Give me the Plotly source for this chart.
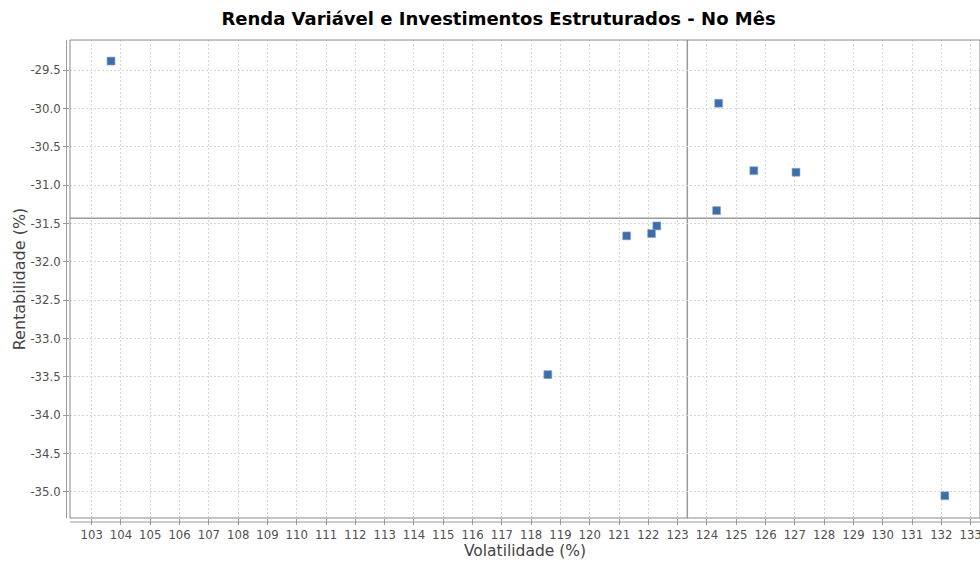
import plotly.graph_objects as go

# Data
volatilidade = [103.66, 124.40, 125.60, 127.04, 124.33, 122.29, 122.11, 121.26, 118.57, 132.12]
rentabilidade = [-29.38, -29.93, -30.81, -30.83, -31.33, -31.53, -31.63, -31.66, -33.47, -35.05]

ref_vol = 123.33
ref_rent = -31.43

x_range = [102.26, 133.32]
y_range = [-35.34, -29.105]
x_ticks = list(range(103, 134))
y_ticks = [-29.5 - 0.5 * i for i in range(12)]
y_ticklabels = [f"{v:.1f}" for v in y_ticks]

title_text = "Renda Variável e Investimentos Estruturados - No Mês"
x_title = "Volatilidade (%)"
y_title = "Rentabilidade (%)"

W, H = 980, 563
L, R, T, B = 70, 0, 40, 45
pw, ph = W - L - R, H - T - B

fig = go.Figure()
fig.add_trace(go.Scatter(
    x=volatilidade, y=rentabilidade, mode="markers",
    marker=dict(symbol="square", size=8, color="#3f6ea6",
                line=dict(color="#8fb0d6", width=0.6)),
    hoverinfo="x+y", showlegend=False, cliponaxis=False,
))

grid = dict(showgrid=True, gridcolor="#d6d6d6", griddash="2px,2px", gridwidth=1,
            zeroline=False, showline=False, ticks="outside", tickcolor="#999999",
            ticklen=6, tickwidth=1, automargin=False, ticklabeloverflow="allow",
            tickfont=dict(family="DejaVu Sans", size=11.7, color="#505050"))

fig.update_layout(
    width=W, height=H, autosize=False,
    margin=dict(l=L, r=R, t=T, b=B, pad=0, autoexpand=False),
    paper_bgcolor="white", plot_bgcolor="white",
    title=dict(text="<b>" + title_text + "</b>", x=498.5 / W, xref="container", xanchor="center",
               y=1 - 19 / H, yref="container", yanchor="middle",
               font=dict(family="DejaVu Sans", size=18, color="#000000")),
    xaxis=dict(range=x_range, tickmode="array", tickvals=x_ticks,
               title=dict(text=x_title, standoff=3,
                          font=dict(family="DejaVu Sans", size=15.5, color="#444444")),
               **grid),
    yaxis=dict(range=y_range, tickmode="array", tickvals=y_ticks, ticktext=y_ticklabels,
               title=dict(text=y_title, standoff=0,
                          font=dict(family="DejaVu Sans", size=16, color="#444444")),
               **grid),
    shapes=[
        # plot border
        dict(type="rect", xref="paper", yref="paper", x0=0, x1=1, y0=0, y1=1,
             line=dict(color="#888888", width=1), layer="above"),
        # offset axis lines
        dict(type="line", xref="paper", yref="paper", x0=-3.5 / pw, x1=-3.5 / pw, y0=0, y1=1,
             line=dict(color="#999999", width=1)),
        dict(type="line", xref="paper", yref="paper", x0=0, x1=1, y0=-4 / ph, y1=-4 / ph,
             line=dict(color="#999999", width=1)),
        # reference crosshair
        dict(type="line", xref="x", yref="paper", x0=ref_vol, x1=ref_vol, y0=0, y1=1,
             line=dict(color="#9a9a9a", width=1.5), layer="below"),
        dict(type="line", xref="paper", yref="y", x0=0, x1=1, y0=ref_rent, y1=ref_rent,
             line=dict(color="#9a9a9a", width=1.5), layer="below"),
    ],
)

post = ("document.body.style.margin='0';document.body.style.padding='0';"
        "document.body.style.overflow='hidden';"
        "document.documentElement.style.overflow='hidden';"
        "var gd=document.getElementById('{plot_id}');"
        "Plotly.relayout(gd,{width:980,height:563});")

fig.write_html("out.html", config={"responsive": False, "displayModeBar": False},
               post_script=post)
